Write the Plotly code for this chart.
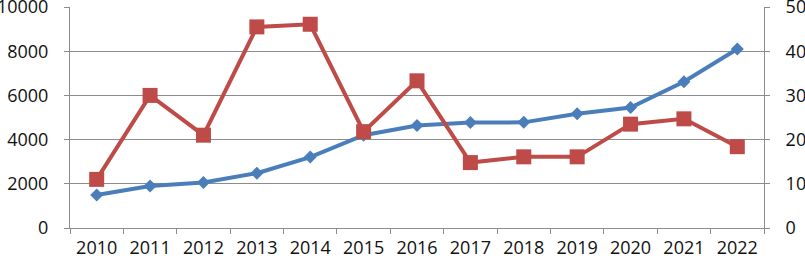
import plotly.graph_objects as go

years = ["2010", "2011", "2012", "2013", "2014", "2015", "2016",
         "2017", "2018", "2019", "2020", "2021", "2022"]
blue_values = [1490, 1900, 2060, 2480, 3210, 4200, 4640, 4770, 4780, 5170, 5450, 6620, 8100]
red_values = [11.0, 30.0, 21.0, 45.5, 46.1, 21.8, 33.3, 14.8, 16.1, 16.1, 23.5, 24.7, 18.4]
left_ticks = [0, 2000, 4000, 6000, 8000, 10000]
right_ticks = [0, 10, 20, 30, 40, 50]

BLUE = "#4A7EBB"
RED = "#BE4B48"
GRID = "#8C8C8C"
FONT = dict(family="Open Sans, Liberation Sans, sans-serif", size=18, color="#111111")

fig = go.Figure()
fig.add_trace(go.Scatter(
    x=years, y=blue_values, mode="lines+markers",
    line=dict(color=BLUE, width=4),
    marker=dict(symbol="diamond", size=10, color=BLUE),
    yaxis="y", showlegend=False, cliponaxis=False))
fig.add_trace(go.Scatter(
    x=years, y=red_values, mode="lines+markers",
    line=dict(color=RED, width=4),
    marker=dict(symbol="square", size=15, color=RED),
    yaxis="y2", showlegend=False, cliponaxis=False))

fig.update_layout(
    width=805, height=261,
    margin=dict(l=70, r=41, t=7, b=33),
    paper_bgcolor="white", plot_bgcolor="white",
    font=FONT,
    xaxis=dict(type="category", range=[-0.5, 12.5], tickson="boundaries",
               ticks="outside", ticklen=5, automargin=False,
               tickcolor=GRID, showline=True, linecolor=GRID, linewidth=1,
               showgrid=False, tickfont=FONT, ticklabelstandoff=3),
    yaxis=dict(range=[0, 10000.5], tickvals=left_ticks,
               ticktext=[str(v) for v in left_ticks],
               ticks="outside", ticklen=5, automargin=False,
               tickcolor=GRID, showline=True, linecolor=GRID, linewidth=1,
               showgrid=True, gridcolor=GRID, gridwidth=1, zeroline=False,
               tickfont=FONT, ticklabelstandoff=12, ticklabeloverflow="allow"),
    yaxis2=dict(range=[0, 50.0025], tickvals=right_ticks,
                ticktext=[str(v) for v in right_ticks],
                overlaying="y", side="right", automargin=False,
                ticks="outside", ticklen=5, tickcolor=GRID, showline=True,
                linecolor=GRID, linewidth=1, showgrid=False, zeroline=False,
                tickfont=FONT, ticklabelstandoff=12, ticklabeloverflow="allow"),
)

fig.write_html("out.html", config={"displayModeBar": False},
               post_script="document.body.style.margin='0';")
